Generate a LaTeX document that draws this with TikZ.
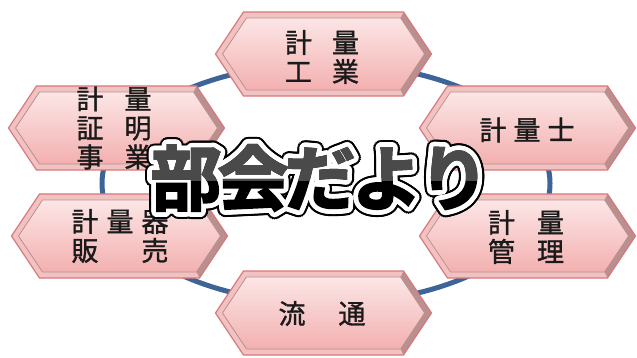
\documentclass[tikz,border=0pt]{standalone}
\usepackage{fontspec}
\newfontfamily\cjk[FakeBold=1.2]{Noto Sans CJK JP}
\newfontfamily\cjkt[FakeBold=2.5]{Noto Sans CJK JP Bold}
\definecolor{ringblue}{HTML}{3D6496}
\definecolor{hexout}{HTML}{D9777A}
\definecolor{hexedgec}{HTML}{F1C2C2}
\definecolor{hexdarkc}{HTML}{B99090}
\definecolor{hextop}{HTML}{FCE6E6}
\definecolor{hexbot}{HTML}{F3B0B0}
\definecolor{hexin}{HTML}{C08A8A}
\definecolor{txt}{HTML}{1A1A1A}
\definecolor{ttlgray}{HTML}{4A4A4A}
\tikzset{
  ring/.style={draw=ringblue, line width=5pt},
  hexedge/.style={fill=hexedgec},
  hexdark/.style={fill=hexdarkc},
  hexface/.style={top color=hextop, bottom color=hexbot},
  hexline/.style={draw=hexout, line width=1.2pt, line join=miter},
  hexinner/.style={draw=hexin, line width=0.7pt},
  lbl/.style={font=\cjk\fontsize{27}{29}\selectfont, align=center, text=txt, inner sep=0pt},
  ttl/.style={font=\cjkt\fontsize{71}{71}\selectfont, inner sep=0pt},
}
\newcommand\hexshape[3]{%
  \begin{scope}[shift={(#2,#3)}]
    \coordinate (#1) at (0,0);
    \fill[hexedge] (-108,0) -- (-80,-42) -- (80,-42) -- (108,0) -- (80,42) -- (-80,42) -- cycle;
    \fill[hexdark] (80,-42) -- (108,0) -- (80,42) -- (77,36) -- (101,0) -- (77,-36) -- cycle;
    \shade[hexface] (-101,0) -- (-77,-36) -- (77,-36) -- (101,0) -- (77,36) -- (-77,36) -- cycle;
    \draw[hexinner] (-101,0) -- (-77,-36) -- (77,-36) -- (101,0) -- (77,36) -- (-77,36) -- cycle;
    \draw[hexline] (-108,0) -- (-80,-42) -- (80,-42) -- (108,0) -- (80,42) -- (-80,42) -- cycle;
  \end{scope}}
\newcommand\ttltext{部\hspace{-4pt}会\hspace{-4pt}だ\hspace{-4pt}よ\hspace{-4pt}り}
\begin{document}
\begin{tikzpicture}[x=1pt,y=-1pt]
\useasboundingbox (0,0) rectangle (637,358);
\fill[white] (0,0) rectangle (637,358);
% ring
\draw[ring] (326,183.5) ellipse [x radius=224pt, y radius=120pt];
% hexagons
\hexshape{h1}{323.5}{54}
\hexshape{h2}{116.5}{128}
\hexshape{h3}{527.5}{128}
\hexshape{h4}{119.5}{236}
\hexshape{h5}{527.5}{236}
\hexshape{h6}{323.5}{313}
% labels
\node[lbl] (n1) at (322,57) {計\hspace{20pt}量\\工\hspace{20pt}業};
\node[lbl] (n2) at (114,128) {計\hspace{21pt}量\\証\hspace{21pt}明\\事\hspace{21pt}業};
\node[lbl] (n3) at (527,130) {計\hspace{7pt}量\hspace{7pt}士};
\node[lbl] (n4) at (120,236) {計\hspace{8pt}量\hspace{8pt}器\\販\hspace{8pt}\phantom{量}\hspace{8pt}売};
\node[lbl] (n5) at (526,237) {計\hspace{22pt}量\\管\hspace{22pt}理};
\node[lbl] (n6) at (322,313.5) {流\hspace{33pt}通};
% title with outlines
\foreach \a in {0,15,...,345}
  \node[ttl, text=black, shift={(\a:7pt)}] (tb\a) at (320,178) {\ttltext};
\foreach \a in {0,15,...,345}
  \node[ttl, text=white, shift={(\a:4.8pt)}] (tw\a) at (320,178) {\ttltext};
\node[ttl, text=black] (title) at (320,178) {\ttltext};
\begin{scope}
  \clip (100,100) rectangle (560,181);
  \node[ttl, text=ttlgray] (titletop) at (320,178) {\ttltext};
\end{scope}
\end{tikzpicture}
\end{document}
